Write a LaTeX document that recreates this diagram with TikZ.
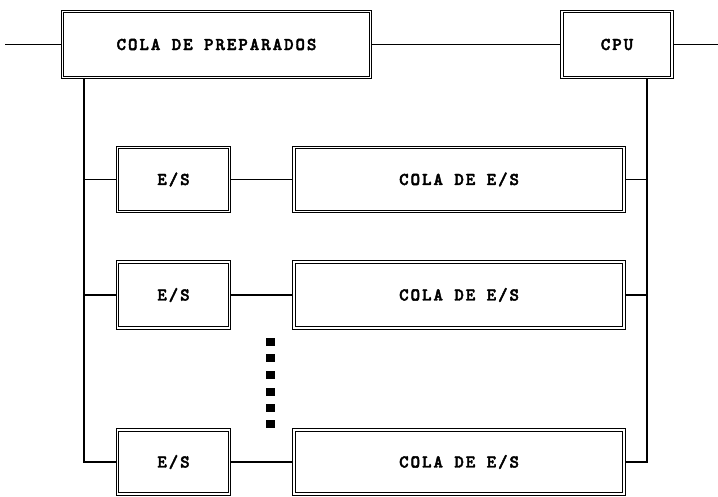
\documentclass[tikz,border=0pt]{standalone}
\usepackage{fontspec}
\newfontfamily\boxfont{lmmonolt10-bold.otf}[LetterSpace=11,FakeBold=2.5]
\usetikzlibrary{positioning}

\begin{document}
\begin{tikzpicture}[
  x=1pt,y=-1pt,
  box/.style={draw,double,double distance=1.6pt,line width=1pt,outer sep=1.8pt,minimum height=64pt,align=center,font=\boxfont\fontsize{18}{20}\selectfont},
  link/.style={line width=1.5pt},
  node distance=61pt
]
\useasboundingbox (0,0) rectangle (718,497);
\node[box,minimum width=308pt,minimum height=66pt] (prep) at (216.5,44.5) {COLA DE PREPARADOS};
\node[box,minimum width=110pt,minimum height=66pt] (cpu) at (617,44.5) {CPU};
\node[box,minimum width=112pt] (es1) at (173.5,179.5) {E/S};
\node[box,minimum width=112pt,minimum height=66pt] (es2) at (173.5,295) {E/S};
\node[box,minimum width=112pt] (es3) at (173.5,462) {E/S};
\node[box,minimum width=330pt,right=of es1] (cola1) {COLA DE E/S};
\node[box,minimum width=330pt,minimum height=66pt,right=of es2] (cola2) {COLA DE E/S};
\node[box,minimum width=330pt,right=of es3] (cola3) {COLA DE E/S};
\coordinate (in) at (5,44.5);
\coordinate (out) at (718,44.5);
\coordinate (lbot) at (84,462);
\coordinate (rbot) at (647,462);
% main line
\draw[link] (in) -- (prep);
\draw[link] (prep) -- (cpu);
\draw[link] (cpu) -- (out);
% left trunk to the E/S boxes
\draw[link] (prep.south -| lbot) -- (lbot) -- (es3);
\draw[link] (es1.west -| lbot) -- (es1);
\draw[link] (es2.west -| lbot) -- (es2);
% E/S to queues
\draw[link] (es1) -- (cola1);
\draw[link] (es2) -- (cola2);
\draw[link] (es3) -- (cola3);
% right trunk back to the CPU
\draw[link] (cpu.south -| rbot) -- (rbot) -- (cola3);
\draw[link] (cola1.east -| rbot) -- (cola1);
\draw[link] (cola2.east -| rbot) -- (cola2);
% dots
\foreach \y in {342,358,375,392,408,424}
  \fill (265.5,\y-4) rectangle ++(9,8);
\end{tikzpicture}
\end{document}
